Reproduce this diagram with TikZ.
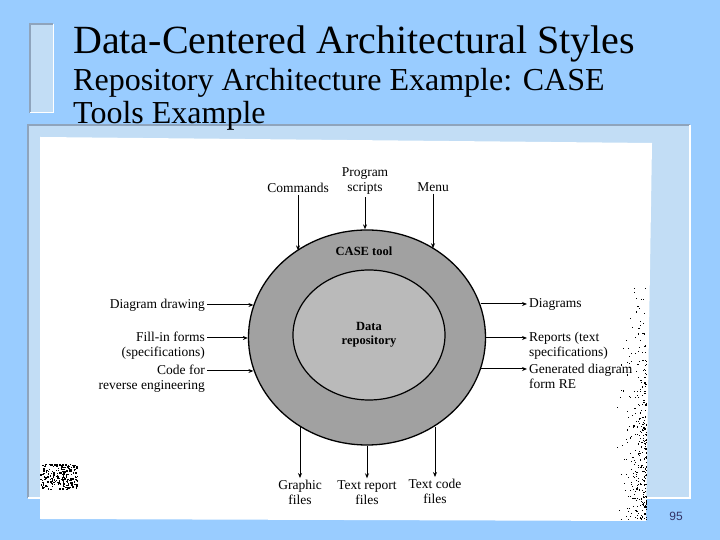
\documentclass[tikz,border=0pt]{standalone}
\usepackage{fontspec}
\setmainfont{Liberation Serif}
\newfontfamily\pagefont{Liberation Sans}
\usepackage{xcolor}
\usepackage{tikz}
\usetikzlibrary{arrows.meta, positioning, shapes.geometric, calc}
\definecolor{slideblue}{HTML}{99CCFF}
\definecolor{panelblue}{HTML}{C2DDF5}
\definecolor{edgegray}{HTML}{8FA4BC}
\definecolor{pagenum}{HTML}{333366}
\tikzset{
    figlbl/.style={
        font=\fontsize{13.5}{15}\selectfont, inner sep=2pt, align=center
    },
    boldlbl/.style={
        font=\fontsize{12.5}{14}\selectfont\bfseries, inner sep=1pt, align=center
    },
    flowarrow/.style={
        -{Stealth[length=5pt, width=4pt]}, line width=1pt, color=black
    },
    toolring/.style={
        ellipse, draw=black, fill=black!37, line width=1.3pt,
        minimum width=237pt, minimum height=215pt, inner sep=0pt
    },
    repocore/.style={
        ellipse, draw=black, fill=black!27, line width=1.2pt,
        minimum width=152pt, minimum height=130pt, inner sep=0pt,
        font=\fontsize{12.5}{14}\selectfont\bfseries, align=center
    },
    slidetitle/.style={
        font=\fontsize{40}{46}\selectfont, anchor=base west, inner sep=0pt
    },
    slidesub/.style={
        font=\fontsize{32}{36}\selectfont, anchor=base west, inner sep=0pt
    },
}

\begin{document}
\begin{tikzpicture}[x=1pt, y=1pt]

    % Slide background
    \fill[slideblue] (0,0) rectangle (720,540);
    \useasboundingbox (0,0) rectangle (720,540);

    % Title bar
    \fill[panelblue] (30,427) rectangle (53,516);
    \draw[edgegray, line width=1.5pt] (30,427) -- (30,516) -- (53,516);
    \draw[white, line width=1pt] (53,516) -- (53,427) -- (30,427);

    % Content panel and scanned page
    \fill[panelblue] (28,42) rectangle (690,415);
    \draw[edgegray, line width=2pt] (28,42) -- (28,415) -- (690,415);
    \draw[white, line width=1.5pt] (690,415) -- (690,42) -- (28,42);
    \fill[white] (40,403) -- (652,397) -- (646,19) -- (40,21) -- cycle;

    % Titles
    \node[slidetitle] (title) at (73,486) {Data-Centered Architectural Styles};
    \node[slidesub] (sub1) at (73,449) {Repository Architecture Example: CASE};
    \node[slidesub] (sub2) at (73,416) {Tools Example};

    % Scan noise
    \pgfmathsetseed{42}
    \foreach \k in {1,...,340}{
        \pgfmathsetmacro{\sx}{646-30*rnd*rnd}
        \pgfmathsetmacro{\sy}{270-250*sqrt(rnd)}
        \fill[black] (\sx,\sy) rectangle ++(1.1,1.1);
    }
    \foreach \k in {1,...,230}{
        \pgfmathsetmacro{\sx}{40+37*rnd}
        \pgfmathsetmacro{\sy}{50+25*rnd}
        \fill[black] (\sx,\sy) rectangle ++(1.3,1.3);
    }

    % CASE tool and repository
    \node[toolring] (ring) at (367,202.5) {};
    \node[repocore] (repo) at (369,205) {Data\\repository};
    \node[boldlbl] (casetool) at (364,289) {CASE tool};

    % Inputs on top
    \node[figlbl] (cmd) at (298,352) {Commands};
    \node[figlbl] (prog) at (365,358.5) {Program\\scripts};
    \node[figlbl] (menu) at (433,353) {Menu};

    % Inputs on the left
    \node[figlbl, anchor=east, align=right] (draw) at (207,235) {Diagram drawing};
    \node[figlbl, anchor=east, align=right] (forms) at (207,194.5) {Fill-in forms\\(specifications)};
    \node[figlbl, anchor=east, align=right] (rev) at (207,161.5) {Code for\\reverse engineering};

    % Outputs on the right
    \node[figlbl, anchor=west, align=left] (dgm) at (527,236) {Diagrams};
    \node[figlbl, anchor=west, align=left] (rep) at (527,194.5) {Reports (text\\specifications)};
    \node[figlbl, anchor=west, align=left] (gen) at (527,163.5) {Generated diagram\\form RE};

    % Outputs at the bottom
    \node[figlbl] (gfx) at (300,47.5) {Graphic\\files};
    \node[figlbl] (trep) at (367,47.5) {Text report\\files};
    \node[figlbl] (tcode) at (435,48.5) {Text code\\files};

    % Arrows in
    \draw[flowarrow] (cmd.south) -- (cmd.south |- ring.129);
    \draw[flowarrow] (prog.south) -- (prog.south |- ring.north);
    \draw[flowarrow] (menu.south) -- (menu.south |- ring.53.5);
    \draw[flowarrow] (draw.east) -- (draw.east -| ring.164);
    \draw[flowarrow] ([yshift=7.5pt]forms.east) -- ([yshift=7.5pt]forms.east -| ring.west);
    \draw[flowarrow] ([yshift=7.5pt]rev.east) -- ([yshift=7.5pt]rev.east -| ring.196.6);

    % Arrows out
    \draw[flowarrow] (dgm.west -| ring.16.6) -- (dgm.west);
    \draw[flowarrow] ([yshift=7.5pt]rep.west -| ring.east) -- ([yshift=7.5pt]rep.west);
    \draw[flowarrow] ([yshift=7.5pt]gen.west -| ring.344.5) -- ([yshift=7.5pt]gen.west);
    \draw[flowarrow] (gfx.north |- ring.233) -- (gfx.north);
    \draw[flowarrow] (trep.north |- ring.south) -- (trep.north);
    \draw[flowarrow] (tcode.north |- ring.307.7) -- (tcode.north);

    % Page number
    \node[font=\pagefont\fontsize{12}{14}\selectfont, text=pagenum] (pgno) at (676,24) {95};

\end{tikzpicture}
\end{document}
